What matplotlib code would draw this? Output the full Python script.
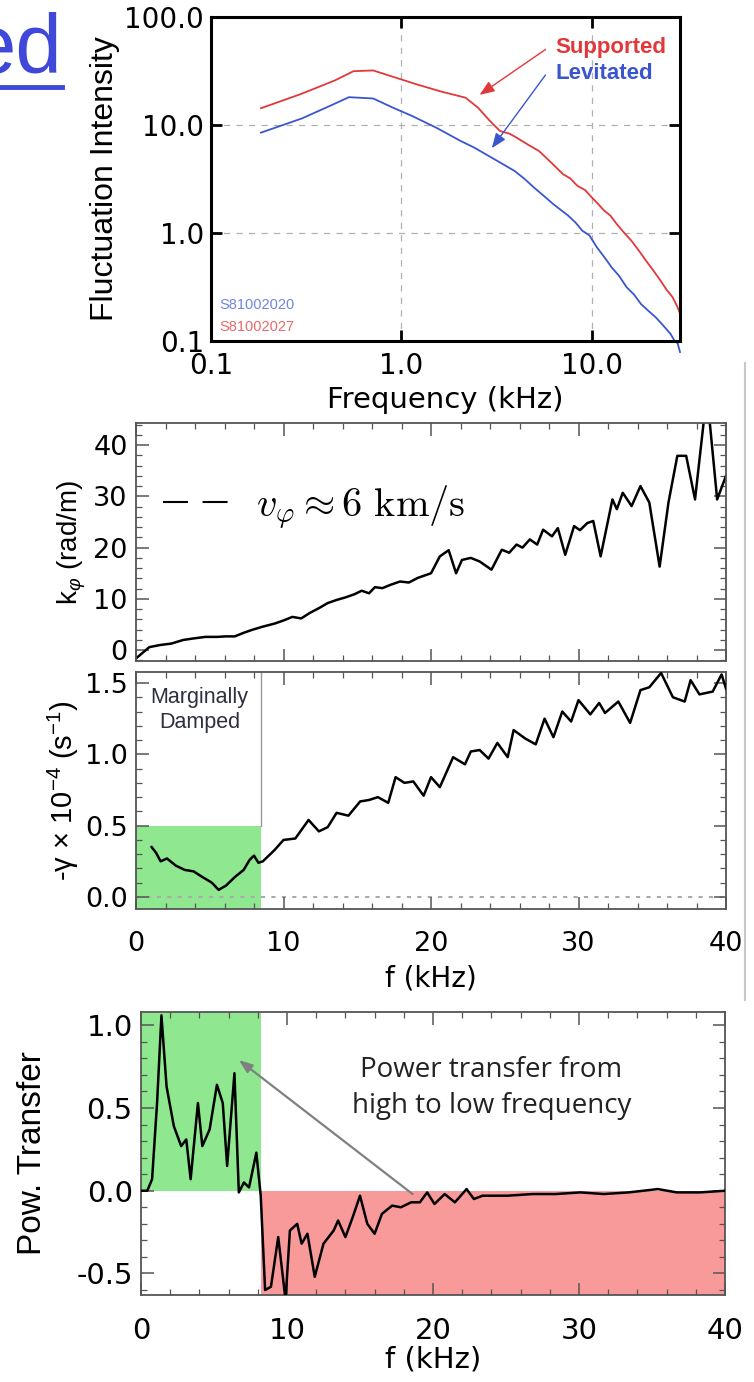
import matplotlib
matplotlib.use("Agg")
import matplotlib.pyplot as plt
from matplotlib.lines import Line2D
from matplotlib.ticker import AutoMinorLocator, FixedLocator, NullLocator
from matplotlib.font_manager import FontProperties

plt.rcParams['font.family'] = ['Liberation Sans', 'DejaVu Sans']
plt.rcParams['mathtext.fontset'] = 'custom'
plt.rcParams['mathtext.rm'] = 'Liberation Sans'
plt.rcParams['mathtext.it'] = 'Liberation Sans:italic'
plt.rcParams['mathtext.default'] = 'it'

WIDE = ['DejaVu Sans']  # wide face for horizontal tick labels and axis titles

# ---------------- data ----------------
# fluctuation spectra (log-log)
sup_f = [0.183, 0.3, 0.45, 0.56, 0.71, 0.9, 1.21, 1.6, 2.17, 2.52, 2.9, 3.29, 3.7, 4.04,
         4.6, 5.27, 6.1, 7.06, 7.7, 8.4, 9.2, 10.0, 10.8, 11.6, 12.5, 13.5, 14.8, 16.1,
         17.5, 19.2, 21.0, 22.9, 24.6, 26.5, 28.0, 29.0]
sup_I = [14.3, 19.5, 26.0, 31.5, 32.0, 28.0, 23.7, 20.5, 17.9, 14.5, 11.0, 8.8, 8.3, 7.6,
         6.6, 5.75, 4.5, 3.5, 3.2, 2.73, 2.5, 2.13, 1.85, 1.61, 1.45, 1.21, 1.0, 0.85,
         0.70, 0.556, 0.45, 0.363, 0.30, 0.255, 0.21, 0.18]
lev_f = [0.183, 0.3, 0.42, 0.53, 0.71, 0.9, 1.14, 1.53, 2.05, 2.4, 2.75, 3.29, 3.92, 4.4,
         4.96, 5.6, 6.27, 7.5, 8.2, 8.9, 9.7, 10.6, 11.6, 12.7, 13.9, 15.2, 16.6, 18.1,
         19.8, 21.6, 23.6, 25.8, 27.2, 28.2, 29.0]
lev_I = [8.5, 11.5, 15.0, 18.1, 17.6, 14.5, 12.1, 9.4, 7.1, 6.2, 5.4, 4.5, 3.76, 3.2,
         2.64, 2.2, 1.85, 1.45, 1.25, 1.05, 0.95, 0.74, 0.60, 0.48, 0.40, 0.315, 0.27, 0.22,
         0.19, 0.166, 0.14, 0.117, 0.10, 0.095, 0.079]

# wavenumber spectrum
kf = [0.0, 0.9, 1.6, 2.4, 3.2, 3.9, 4.7, 5.5, 6.1, 6.7, 7.3, 7.9, 8.6, 9.4, 10.0, 10.6,
      11.2, 11.8, 12.4, 13.0, 13.6, 14.2, 14.8, 15.3, 15.8, 16.2, 16.7, 17.3, 17.9, 18.5,
      19.1, 19.6, 20.0, 20.6, 21.2, 21.7, 22.1, 22.7, 23.3, 24.1, 24.8, 25.3, 25.8, 26.2,
      26.7, 27.2, 27.6, 28.2, 28.6, 29.1, 29.7, 30.1, 30.6, 31.0, 31.5, 32.3, 32.6, 33.0,
      33.6, 34.2, 34.8, 35.5, 36.1, 36.7, 37.3, 37.9, 38.5, 38.9, 39.4, 40.0]
kphi = [-1.6, 0.6, 1.0, 1.3, 2.0, 2.3, 2.6, 2.6, 2.7, 2.7, 3.4, 4.0, 4.6, 5.2, 5.8, 6.5,
        6.2, 7.3, 8.2, 9.2, 9.8, 10.3, 10.9, 11.6, 11.1, 12.3, 12.1, 12.8, 13.4, 13.2,
        14.1, 14.6, 15.0, 18.3, 19.5, 15.0, 17.6, 18.0, 17.3, 15.7, 19.6, 19.0, 20.6, 20.0,
        21.6, 20.6, 23.5, 22.2, 23.8, 18.6, 24.2, 23.4, 24.8, 25.2, 18.3, 29.4, 27.5, 30.7,
        28.1, 32.0, 28.8, 16.3, 28.8, 37.9, 37.9, 29.4, 44.8, 44.4, 29.4, 34.0]

# damping rate
gf = [1.06, 1.36, 1.67, 2.1, 2.7, 3.3, 3.9, 4.5, 5.15, 5.6, 6.1, 6.7, 7.3, 7.7, 8.0, 8.3,
      8.6, 9.4, 10.0, 10.8, 11.7, 12.4, 13.0, 13.6, 14.4, 15.2, 15.8, 16.4, 17.1, 17.6,
      18.2, 18.8, 19.5, 20.0, 20.6, 21.5, 22.3, 22.7, 23.3, 23.9, 24.5, 25.2, 25.6, 26.4,
      27.1, 27.7, 28.3, 28.9, 29.5, 30.0, 30.8, 31.4, 31.8, 32.7, 33.5, 34.2, 34.8, 35.6,
      36.4, 37.2, 37.6, 38.2, 39.1, 39.7, 40.0]
gam = [0.35, 0.31, 0.25, 0.27, 0.22, 0.19, 0.18, 0.14, 0.10, 0.05, 0.08, 0.14, 0.19, 0.26,
       0.29, 0.24, 0.25, 0.33, 0.40, 0.41, 0.54, 0.46, 0.49, 0.59, 0.57, 0.67, 0.68, 0.70,
       0.66, 0.84, 0.80, 0.81, 0.71, 0.84, 0.77, 0.98, 0.93, 1.02, 1.03, 0.97, 1.08, 0.98,
       1.17, 1.11, 1.07, 1.25, 1.12, 1.30, 1.23, 1.38, 1.28, 1.36, 1.29, 1.37, 1.22, 1.45,
       1.47, 1.57, 1.40, 1.37, 1.52, 1.42, 1.44, 1.56, 1.46]

# nonlinear power transfer
pf = [0.0, 0.43, 0.76, 1.1, 1.4, 1.75, 2.25, 2.75, 3.1, 3.4, 3.9, 4.2, 4.7, 5.2, 5.6, 5.9,
      6.4, 6.7, 7.05, 7.4, 7.9, 8.2, 8.5, 8.9, 9.4, 9.9, 10.2, 10.7, 11.0, 11.4, 11.9,
      12.5, 13.2, 13.5, 14.0, 14.5, 15.0, 15.5, 16.0, 16.5, 17.2, 17.8, 18.5, 19.1, 19.6,
      20.1, 20.8, 21.5, 22.3, 22.8, 23.4, 25.1, 26.8, 28.4, 30.1, 31.7, 33.4, 35.4, 36.7,
      38.3, 40.0]
ptr = [0.0, 0.0, 0.07, 0.53, 1.06, 0.63, 0.39, 0.27, 0.31, 0.07, 0.53, 0.27, 0.37, 0.64,
       0.53, 0.15, 0.71, -0.01, 0.05, 0.02, 0.23, -0.03, -0.60, -0.58, -0.28, -0.66, -0.24,
       -0.20, -0.32, -0.26, -0.52, -0.32, -0.24, -0.18, -0.28, -0.16, -0.03, -0.20, -0.26,
       -0.14, -0.09, -0.10, -0.07, -0.07, -0.01, -0.08, -0.02, -0.07, 0.01, -0.05, -0.03,
       -0.03, -0.02, -0.02, -0.01, -0.02, -0.01, 0.01, -0.01, -0.01, 0.0]

W, H = 754, 1382
fig = plt.figure(figsize=(W / 100, H / 100), dpi=100)


def box(l, t, r, b):
    return [l / W, 1 - b / H, (r - l) / W, (b - t) / H]


def wide_ticks(ax, size):
    for lab in ax.get_xticklabels() + ax.get_yticklabels():
        lab.set_family(WIDE)
        lab.set_fontsize(size)


# slide-title fragment
fig.text(62 / W, 1 - 73 / H, "ed", ha="right", va="baseline", fontsize=60, color="#3f48d8")
fig.add_artist(Line2D([0, 62 / W], [1 - 87 / H, 1 - 87 / H], color="#3f48d8", lw=3.5))
# frame line on the right of the lower figure
fig.add_artist(Line2D([745 / W, 745 / W], [1 - 363 / H, 1 - 1000 / H], color="#c8c8c8", lw=1.5))

# ---------------- top: fluctuation spectra ----------------
ax0 = fig.add_axes(box(211, 17, 680, 341))
RED, BLUE = "#e2383a", "#3a56cf"
ax0.plot(sup_f, sup_I, color=RED, lw=1.3)
ax0.plot(lev_f, lev_I, color=BLUE, lw=1.3, clip_on=False)
ax0.set_xscale("log")
ax0.set_yscale("log")
ax0.set_xlim(0.1, 29)
ax0.set_ylim(0.1, 100)
ax0.xaxis.set_major_locator(FixedLocator([0.1, 1, 10]))
ax0.yaxis.set_major_locator(FixedLocator([0.1, 1, 10, 100]))
ax0.xaxis.set_minor_locator(NullLocator())
ax0.yaxis.set_minor_locator(NullLocator())
ax0.set_xticklabels(["0.1", "1.0", "10.0"])
ax0.set_yticklabels(["0.1", "1.0", "10.0", "100.0"])
ax0.tick_params(direction="in", length=8, width=2, top=True, right=True, pad=5)
ax0.tick_params(axis="x", pad=8)
wide_ticks(ax0, 20)
for s in ax0.spines.values():
    s.set_linewidth(2.2)
ax0.grid(True, color="#b0b0b0", ls=(0, (5, 5)), lw=0.9)
ax0.set_xlabel("Frequency (kHz)", fontsize=21, family=WIDE, labelpad=4)
ax0.set_ylabel("Fluctuation Intensity", fontsize=23, labelpad=3)
ax0.text(6.4, 52, "Supported", color=RED, fontsize=16, fontweight="bold", va="center")
ax0.text(6.4, 30, "Levitated", color=BLUE, fontsize=16, fontweight="bold", va="center")
ax0.annotate("", xy=(2.57, 19), xytext=(5.7, 50),
             arrowprops=dict(arrowstyle="-|>,head_length=0.9,head_width=0.35",
                             color=RED, lw=1.0, shrinkA=0, shrinkB=0))
ax0.annotate("", xy=(2.98, 6.1), xytext=(5.7, 29),
             arrowprops=dict(arrowstyle="-|>,head_length=0.9,head_width=0.35",
                             color=BLUE, lw=1.0, shrinkA=0, shrinkB=0))
ax0.text(0.11, 0.215, "S81002020", color="#6f86e0", fontsize=10.5, va="center")
ax0.text(0.11, 0.135, "S81002027", color="#e86a6a", fontsize=10.5, va="center")

# common styling for the lower panels
FRAME = "#555555"


def idl_style(ax, xpad):
    for s in ax.spines.values():
        s.set_color(FRAME)
        s.set_linewidth(1.3)
    ax.xaxis.set_minor_locator(AutoMinorLocator(5))
    ax.yaxis.set_minor_locator(AutoMinorLocator(5))
    ax.tick_params(which="major", direction="in", length=9, width=1.1, color=FRAME,
                   top=True, right=True, pad=6)
    ax.tick_params(which="minor", direction="in", length=4.5, width=0.9, color=FRAME,
                   top=True, right=True)
    ax.tick_params(axis="x", which="major", pad=xpad)


# ---------------- k_phi ----------------
ax1 = fig.add_axes(box(136, 423, 726, 661))
ax1.plot(kf, kphi, color="k", lw=1.8)
ax1.set_xlim(0, 40)
ax1.set_ylim(-2.1, 44.3)
ax1.set_yticks([0, 10, 20, 30, 40])
ax1.set_xticks([0, 10, 20, 30, 40])
ax1.tick_params(labelbottom=False)
idl_style(ax1, 6)
wide_ticks(ax1, 19.5)
ax1.set_ylabel(r"k$_\varphi$ (rad/m)", fontsize=20, labelpad=4)
ax1.legend(handles=[Line2D([], [], color="k", lw=1.5, dashes=(12, 7))],
           labels=[r"$v_\varphi \approx 6\ \mathrm{km/s}$"],
           loc="center left", bbox_to_anchor=(0.046, 0.647), frameon=False,
           handlelength=1.6, handletextpad=0.7, borderpad=0, borderaxespad=0,
           prop=FontProperties(size=29, math_fontfamily="cm"))

# ---------------- damping ----------------
ax2 = fig.add_axes(box(136, 672, 726, 909))
ax2.set_xlim(0, 40)
ax2.set_ylim(-0.084, 1.577)
ax2.axvspan(0, 8.5, ymin=0, ymax=(0.5 + 0.084) / (1.577 + 0.084), color="#8fe88f", lw=0, zorder=0)
ax2.plot([8.5, 8.5], [0.5, 1.577], color="#999999", lw=1.0, zorder=1)
ax2.axhline(0, color="#aaaaaa", lw=1.5, ls=(0, (2, 3)), zorder=1)
ax2.plot(gf, gam, color="k", lw=1.8, zorder=3)
ax2.set_yticks([0.0, 0.5, 1.0, 1.5])
ax2.set_yticklabels(["0.0", "0.5", "1.0", "1.5"])
ax2.set_xticks([0, 10, 20, 30, 40])
idl_style(ax2, 16)
wide_ticks(ax2, 19.5)
ax2.set_xlabel("f (kHz)", fontsize=20, family=WIDE, labelpad=5)
ax2.set_ylabel(r"-$\mathrm{\gamma}$ × 10$^{-4}$ (s$^{-1}$)", fontsize=21, labelpad=3)
ax2.text(4.3, 1.40, "Marginally", ha="center", va="center", fontsize=15.5, color="#2e3040")
ax2.text(4.3, 1.22, "Damped", ha="center", va="center", fontsize=15.5, color="#2e3040")

# ---------------- power transfer ----------------
ax3 = fig.add_axes(box(141, 1012, 725, 1295))
ax3.set_xlim(0, 40)
ax3.set_ylim(-0.63, 1.08)
ax3.axvspan(0, 8.2, ymin=0.63 / 1.71, ymax=1, color="#8fe88f", lw=0, zorder=0)
ax3.axvspan(8.2, 40, ymin=0, ymax=0.63 / 1.71, color="#f99a9a", lw=0, zorder=0)
ax3.plot(pf, ptr, color="k", lw=1.8, zorder=3)
ax3.set_yticks([-0.5, 0.0, 0.5, 1.0])
ax3.set_yticklabels(["-0.5", "0.0", "0.5", "1.0"])
ax3.set_xticks([0, 10, 20, 30, 40])
idl_style(ax3, 16)
wide_ticks(ax3, 21)
ax3.set_xlabel("f (kHz)", fontsize=21, family=WIDE, labelpad=0)
ax3.set_ylabel("Pow. Transfer", fontsize=24, labelpad=20)
ax3.text(24.0, 0.62, "Power transfer from\nhigh to low frequency", ha="center", va="center",
         fontsize=20, family=["Open Sans", "DejaVu Sans"], linespacing=1.4, color="#222222")
ax3.annotate("", xy=(6.7, 0.79), xytext=(18.6, -0.02),
             arrowprops=dict(arrowstyle="-|>,head_length=0.8,head_width=0.3",
                             color="#808080", lw=1.6, shrinkA=0, shrinkB=0))

fig.savefig("out.png", dpi=100)
